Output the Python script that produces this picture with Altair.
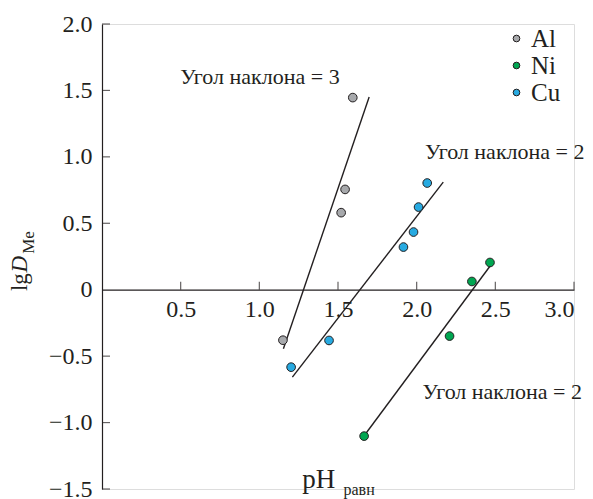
import altair as alt
import pandas as pd

# ---- data ----
al_x = [1.15, 1.52, 1.545, 1.594]
al_y = [-0.38, 0.58, 0.755, 1.446]
ni_x = [1.666, 2.209, 2.351, 2.466]
ni_y = [-1.102, -0.349, 0.062, 0.205]
cu_x = [1.202, 1.443, 1.916, 1.98, 2.012, 2.067]
cu_y = [-0.583, -0.382, 0.321, 0.434, 0.622, 0.803]

# fitted lines (endpoints)
fit_series = ["Al", "Al", "Cu", "Cu", "Ni", "Ni"]
fit_x = [1.153, 1.698, 1.21, 2.169, 1.672, 2.474]
fit_y = [-0.444, 1.45, -0.658, 0.81, -1.09, 0.19]

series = ["Al", "Ni", "Cu"]
colors = ["#a7a9ac", "#00a651", "#27aae1"]

x_ticks = [0.5, 1.0, 1.5, 2.0, 2.5, 3.0]
y_ticks = [-1.5, -1.0, -0.5, 0.5, 1.0, 1.5, 2.0]

ann_text = ["Угол наклона = 3", "Угол наклона = 2", "Угол наклона = 2"]
ann_x = [1.004, 2.56, 2.544]
ann_y = [1.599, 1.036, -0.771]

XMIN, XMAX, YMIN, YMAX = 0, 3, -1.5, 2.0
W, H = 472, 465
FONT = "Liberation Serif"
INK = "#231f20"

pts = pd.DataFrame(
    {"s": ["Al"] * len(al_x) + ["Ni"] * len(ni_x) + ["Cu"] * len(cu_x),
     "x": al_x + ni_x + cu_x,
     "y": al_y + ni_y + cu_y}
)
fits = pd.DataFrame({"s": fit_series, "x": fit_x, "y": fit_y})
ann = pd.DataFrame({"t": ann_text, "x": ann_x, "y": ann_y, "sz": [22] * len(ann_text)})

xs = alt.Scale(domain=[XMIN, XMAX], nice=False, zero=False)
ys = alt.Scale(domain=[YMIN, YMAX], nice=False, zero=False)

x_axis = alt.Axis(values=x_ticks, format=".1f", ticks=False, domainColor=INK,
                  domainWidth=1.2, labelFont=FONT, labelFontSize=24, labelColor=INK,
                  labelPadding=8, grid=False, title=None,
                  offset=-H * (0 - YMIN) / (YMAX - YMIN))
y_axis = alt.Axis(values=[-1.5, -1.0, -0.5, 0, 0.5, 1.0, 1.5, 2.0], ticks=False,
                  labelExpr="datum.value == 0 ? '0' : replace(format(datum.value, '.1f'), '-', '\u2212')",
                  domainColor=INK, domainWidth=1.2, labelFont=FONT, labelFontSize=24,
                  labelColor=INK, labelPadding=10, grid=False, title=None)

base_axes = alt.Chart(pd.DataFrame({"x": [0], "y": [0]})).mark_point(opacity=0).encode(
    x=alt.X("x:Q", scale=xs, axis=x_axis),
    y=alt.Y("y:Q", scale=ys, axis=y_axis),
)

xt = alt.Chart(pd.DataFrame({"x": x_ticks, "y": [0] * len(x_ticks)})).mark_tick(
    orient="vertical", size=8, thickness=1.2, yOffset=-4, color=INK
).encode(x=alt.X("x:Q", scale=xs), y=alt.Y("y:Q", scale=ys))

yt = alt.Chart(pd.DataFrame({"y": y_ticks, "x": [0] * len(y_ticks)})).mark_tick(
    orient="horizontal", size=8, thickness=1.2, xOffset=4, color=INK
).encode(x=alt.X("x:Q", scale=xs), y=alt.Y("y:Q", scale=ys))

lines = alt.Chart(fits).mark_line(color=INK, strokeWidth=1.4).encode(
    x=alt.X("x:Q", scale=xs), y=alt.Y("y:Q", scale=ys), detail="s:N"
)

points = alt.Chart(pts).mark_point(filled=True, size=75, stroke=INK, strokeWidth=1, opacity=1).encode(
    x=alt.X("x:Q", scale=xs),
    y=alt.Y("y:Q", scale=ys),
    fill=alt.Fill("s:N", scale=alt.Scale(domain=series, range=colors),
                  legend=alt.Legend(title=None, orient="none", legendX=402, legendY=2,
                                    symbolType="circle", symbolSize=45,
                                    symbolStrokeColor=INK, symbolStrokeWidth=1,
                                    labelFont=FONT, labelFontSize=25, labelColor=INK,
                                    labelOffset=2, rowPadding=1, padding=0)),
)

annots = alt.Chart(ann).mark_text(font=FONT, color=INK, align="center",
                                  baseline="middle").encode(
    x=alt.X("x:Q", scale=xs), y=alt.Y("y:Q", scale=ys), text="t:N",
    size=alt.Size("sz:Q", scale=None, legend=None),
)

# axis titles built from pieces (subscripts / italics)
tt = pd.DataFrame({
    "t": ["pH", "равн"],
    "x": [1.272, 1.535],
    "y": [-1.496, -1.545],
    "sz": [27, 16],
})
xtitle = alt.Chart(tt).mark_text(font=FONT, color=INK, align="left", baseline="alphabetic").encode(
    x=alt.X("x:Q", scale=xs), y=alt.Y("y:Q", scale=ys), text="t:N",
    size=alt.Size("sz:Q", scale=None, legend=None),
)

yt_df = pd.DataFrame({
    "t": ["lg", "D", "Me"],
    "x": [-0.475, -0.475, -0.43],
    "y": [-0.01, 0.13, 0.27],
    "sz": [23, 23, 17],
    "st": ["normal", "italic", "normal"],
})
ytitle_n = alt.Chart(yt_df[yt_df.st == "normal"]).mark_text(
    font=FONT, color=INK, align="left", baseline="alphabetic", angle=270
).encode(x=alt.X("x:Q", scale=xs), y=alt.Y("y:Q", scale=ys), text="t:N",
         size=alt.Size("sz:Q", scale=None, legend=None))
ytitle_i = alt.Chart(yt_df[yt_df.st == "italic"]).mark_text(
    font=FONT, color=INK, align="left", baseline="alphabetic", angle=270, fontStyle="italic"
).encode(x=alt.X("x:Q", scale=xs), y=alt.Y("y:Q", scale=ys), text="t:N",
         size=alt.Size("sz:Q", scale=None, legend=None))

chart = alt.layer(base_axes, xt, yt, lines, points, annots, xtitle, ytitle_n, ytitle_i).properties(
    width=W, height=H,
    autosize=alt.AutoSizeParams(type="none"),
    padding={"left": 94, "top": 16, "right": 11, "bottom": 10},
).configure_view(stroke=None).configure(background="white", font=FONT)

chart.save("out.html", embed_options={"renderer": "svg", "actions": False})
